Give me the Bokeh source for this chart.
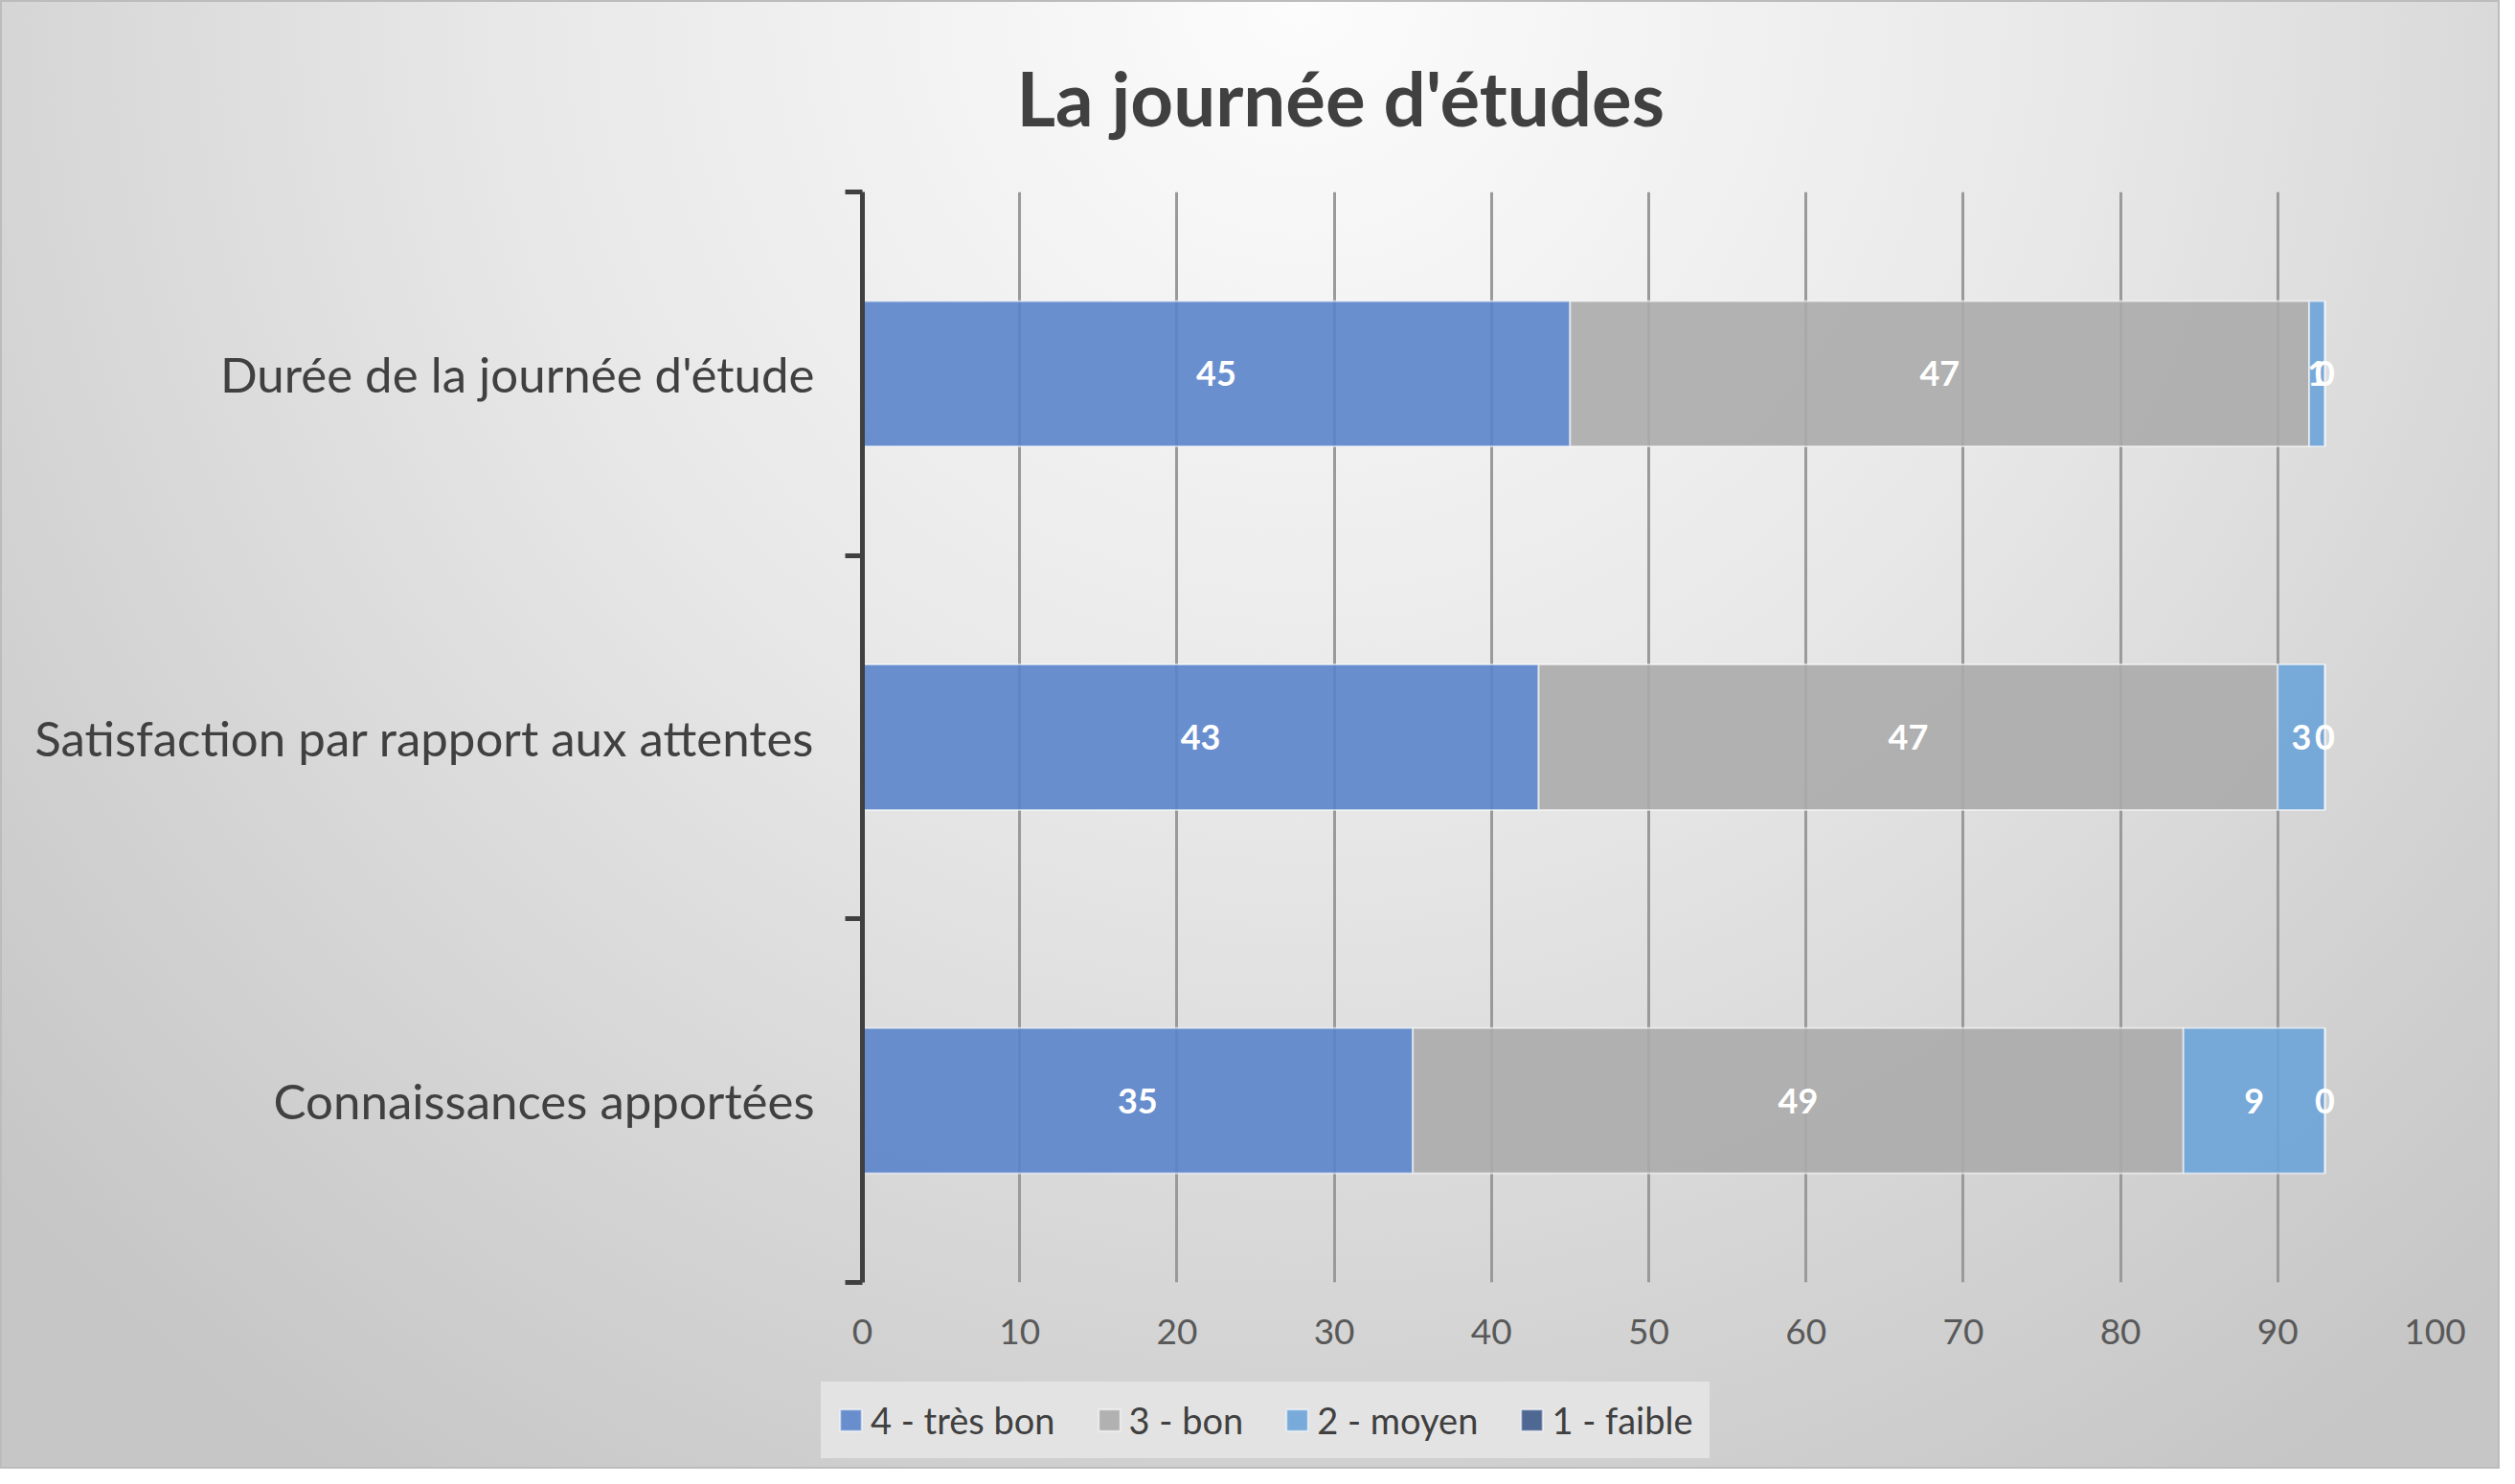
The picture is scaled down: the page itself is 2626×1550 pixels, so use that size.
from bokeh.plotting import figure
from bokeh.layouts import column, row
from bokeh.models import ColumnDataSource, FixedTicker, LabelSet, Legend, LegendItem, Range1d
from bokeh.core.properties import value
from bokeh.embed import file_html
from bokeh.resources import INLINE

# ---- data ----
categories = ["Connaissances apportées",
              "Satisfaction par rapport aux attentes",
              "Durée de la journée d'étude"]
series_names = ["4 - très bon", "3 - bon", "2 - moyen", "1 - faible"]
tres_bon = [35, 43, 45]
bon = [49, 47, 47]
moyen = [9, 3, 1]
faible = [0, 0, 0]
x_ticks = [0, 10, 20, 30, 40, 50, 60, 70, 80, 90, 100]
title_text = "La journée d'études"

colors = ["#5B84CB", "#ABABAB", "#6CA3D8", "#3D5A8A"]
FONT = "Lato"
TXT = "#404040"

ypos = [i + 0.5 for i in range(len(categories))]
keys = ["s0", "s1", "s2", "s3"]
data = dict(y=ypos, s0=tres_bon, s1=bon, s2=moyen, s3=faible)
source = ColumnDataSource(data)

W = 2610
H_MAIN = 1430
H_LEG = 104

p = figure(width=W, height=H_MAIN, x_range=Range1d(0, 100), y_range=Range1d(0, len(categories)),
           output_backend="svg", toolbar_location=None,
           min_border_left=900, min_border_right=68, min_border_top=197, min_border_bottom=91)

p.background_fill_color = None
p.border_fill_color = None
p.outline_line_color = None

# title
p.title.text = title_text
p.title.text_font = FONT
p.title.text_font_style = "bold"
p.title.text_font_size = "78px"
p.title.text_color = TXT
p.title.align = "left"
p.title.offset = 161
p.title.standoff = 104

# bars
renderers = p.hbar_stack(keys, y="y", height=0.4, source=source,
                         fill_color=colors, fill_alpha=0.9,
                         line_color="white", line_alpha=0.55, line_width=2)

# data labels
lx, ly, lt = [], [], []
for i in range(len(categories)):
    left = 0
    for vals in [tres_bon, bon, moyen, faible]:
        v = vals[i]
        lx.append(left + v / 2)
        ly.append(ypos[i])
        lt.append(str(v))
        left += v
lab_src = ColumnDataSource(dict(x=lx, y=ly, text=lt))
labels = LabelSet(x="x", y="y", text="text", source=lab_src,
                  text_align="center", text_baseline="middle",
                  text_color="white", text_font=value(FONT), text_font_style="bold",
                  text_font_size="36px")
p.add_layout(labels)

# grid
p.ygrid.grid_line_color = None
p.xgrid.ticker = FixedTicker(ticks=x_ticks)
p.xgrid.grid_line_color = "#9a9a9a"
p.xgrid.grid_line_width = 3

# x axis
xa = p.xaxis[0]
xa.ticker = FixedTicker(ticks=x_ticks)
xa.axis_line_color = None
xa.major_tick_line_color = None
xa.minor_tick_line_color = None
xa.major_tick_out = 0
xa.major_tick_in = 0
xa.major_label_text_font = FONT
xa.major_label_text_font_size = "37px"
xa.major_label_text_color = "#595959"
xa.major_label_standoff = 38

# y axis
ya = p.yaxis[0]
ya.ticker = FixedTicker(ticks=ypos, minor_ticks=list(range(len(categories) + 1)))
ya.major_label_overrides = {y: c for y, c in zip(ypos, categories)}
ya.axis_line_color = TXT
ya.axis_line_width = 5
ya.major_tick_line_color = None
ya.major_tick_out = 0
ya.major_tick_in = 0
ya.minor_tick_line_color = TXT
ya.minor_tick_line_width = 5
ya.minor_tick_out = 18
ya.minor_tick_in = 0
ya.major_label_text_font = FONT
ya.major_label_text_font_size = "51px"
ya.major_label_text_color = TXT
ya.major_label_standoff = 32

# legend (own strip below the chart)
pl = figure(width=W, height=H_LEG, x_range=Range1d(0, 1), y_range=Range1d(0, 1),
            output_backend="svg", toolbar_location=None,
            x_axis_location=None, y_axis_location=None, min_border=0)
pl.background_fill_color = None
pl.border_fill_color = None
pl.outline_line_color = None
pl.grid.visible = False
# legend swatches only: zero-width bars placed outside the visible range
leg_src = ColumnDataSource(dict(y=[-5], right=[0]))
leg_r = [pl.hbar(y="y", right="right", height=0.4, source=leg_src, fill_color=c, fill_alpha=0.9,
                 line_color="white", line_alpha=0.55, line_width=2) for c in colors]
items = [LegendItem(label=n, renderers=[r]) for n, r in zip(series_names, leg_r)]
legend = Legend(items=items, orientation="horizontal", location=(857, 11),
                background_fill_color="#e3e3e3", background_fill_alpha=1.0,
                border_line_color="#e3e3e3", border_line_alpha=0.0,
                padding=17, margin=0, spacing=42,
                glyph_width=28, glyph_height=28, label_standoff=7, label_height=21,
                label_text_font=FONT, label_text_font_size="38px", label_text_color=TXT)
pl.add_layout(legend, "center")

layout = column(p, row(pl), spacing=0)
layout.styles = {
    "background": "radial-gradient(ellipse 70% 120% at 52% 0%, #fcfcfc 0%, #e8e8e8 45%, #d2d2d2 80%, #c6c6c6 100%)",
    "box-shadow": "inset 0 0 0 2px #bcbcbc",
}

open("out.html", "w").write(file_html(layout, INLINE))
